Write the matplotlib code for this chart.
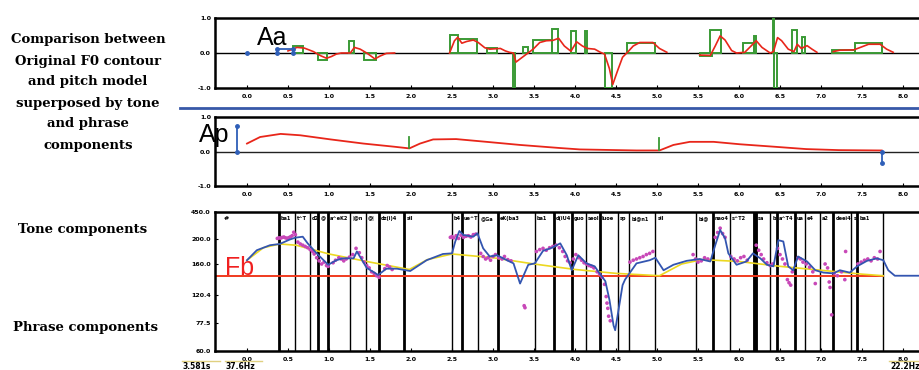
import matplotlib
matplotlib.use("Agg")
import matplotlib.pyplot as plt
from matplotlib.patches import Rectangle
from matplotlib.lines import Line2D
import numpy as np

# ---------------- data ----------------
# time axis labels (s)
x_ticks = [0.0, 0.5, 1.0, 1.5, 2.0, 2.5, 3.0, 3.5, 4.0, 4.5, 5.0, 5.5, 6.0, 6.5, 7.0, 7.5, 8.0]
x_labels = ["%.1f" % v for v in x_ticks]

# tone commands (Aa): onset, offset, amplitude
aa_on = [0.565, 0.862, 1.248, 1.431, 2.476, 2.569, 2.923, 3.248, 3.370, 3.484, 3.715, 3.950, 4.120,
         4.360, 4.640, 5.520, 5.650, 6.050, 6.180, 6.410, 6.430, 6.650, 6.770, 7.130, 7.410]
aa_off = [0.687, 0.972, 1.305, 1.573, 2.569, 2.800, 3.045, 3.268, 3.430, 3.715, 3.797, 4.010, 4.150,
          4.450, 4.970, 5.670, 5.780, 6.180, 6.210, 6.430, 6.460, 6.710, 6.800, 7.410, 7.740]
aa_amp = [0.21, -0.20, 0.35, -0.20, 0.51, 0.39, 0.13, -1.00, 0.16, 0.37, 0.69, 0.62, 0.63,
          -1.00, 0.30, -0.09, 0.67, 0.30, 0.50, 1.00, -1.00, 0.67, 0.47, 0.09, 0.28]

# tone component curve (red), nan = gap
tone_t = [0.50, 0.61, 0.70, 0.81, 0.90, 0.97, 1.03, 1.09, 1.15, 1.26, 1.31, 1.38, 1.46, 1.52, 1.56,
          1.62, 1.70, 1.80, np.nan,
          2.47, 2.53, 2.57, 2.62, 2.68, 2.76, 2.82, 2.90, 2.96, 3.02, 3.09, 3.15, 3.20, 3.25, 3.28,
          3.33, 3.41, 3.49, 3.57, 3.65, 3.73, 3.80, 3.87, 3.95, 4.02, 4.09, 4.15, 4.24, 4.31, 4.36,
          4.42, 4.46, 4.52, 4.58, 4.64, 4.71, 4.79, 4.95, 5.03, 5.12, np.nan,
          5.52, 5.65, 5.71, 5.77, 5.83, 5.91, 5.97, 6.07, 6.13, 6.21, 6.28, 6.38, 6.42, 6.47, 6.52,
          6.60, 6.67, 6.71, 6.76, 6.83, 6.89, 6.95, np.nan,
          7.15, 7.23, 7.40, 7.48, 7.58, 7.72, 7.80, 7.88]
tone_v = [0.06, 0.16, 0.14, 0.04, -0.08, -0.15, -0.10, -0.03, 0.0, 0.0, 0.16, 0.11, 0.0, -0.10, -0.17,
          -0.09, -0.01, 0.0, np.nan,
          0.0, 0.35, 0.45, 0.28, 0.33, 0.37, 0.30, 0.15, 0.11, 0.12, 0.13, 0.06, 0.02, 0.0, -0.26,
          -0.17, -0.03, 0.11, 0.30, 0.35, 0.36, 0.42, 0.20, 0.05, 0.32, 0.20, 0.13, 0.11, 0.02, -0.03,
          -0.45, -0.90, -0.50, -0.12, 0.02, 0.20, 0.30, 0.30, 0.13, 0.02, np.nan,
          -0.06, -0.07, 0.20, 0.49, 0.37, 0.07, 0.0, 0.02, 0.16, 0.35, 0.16, 0.0, 0.04, 0.44, 0.35,
          0.11, 0.04, 0.25, 0.13, 0.21, 0.11, 0.02, np.nan,
          0.04, 0.08, 0.09, 0.16, 0.25, 0.25, 0.11, 0.02]

# Aa marker (blue)
aa_blue_t = [0.36, 0.36, 0.565, 0.565]
aa_blue_v = [0.0, 0.11, 0.11, 0.0]

# phrase commands (Ap)
ap_t = [-0.12, 1.98, 5.03, 7.74]
ap_lo = [0.0, 0.10, 0.03, 0.0]
ap_hi = [0.74, 0.43, 0.38, -0.33]
ap_col = ["#2f5fb8", "#3a9a35", "#3a9a35", "#2f5fb8"]

# phrase component curve (red)
phr_t = [0.00, 0.16, 0.41, 0.65, 1.02, 1.42, 1.79, 1.98, 2.11, 2.27, 2.55, 2.92, 3.33, 3.82, 4.06,
         4.75, 5.03, 5.20, 5.40, 5.69, 6.01, 6.42, 6.82, 7.22, 7.74]
phr_v = [0.23, 0.42, 0.51, 0.47, 0.35, 0.23, 0.14, 0.09, 0.23, 0.35, 0.36, 0.28, 0.19, 0.10, 0.06,
         0.03, 0.03, 0.19, 0.28, 0.28, 0.21, 0.14, 0.07, 0.04, 0.03]

# F0 panel: tick labels (Hz)
f0_ticks = [60.0, 77.5, 120.4, 160.0, 200.0, 450.0]
f0_tick_labels = ["60.0", "77.5", "120.4", "160.0", "200.0", "450.0"]
fb_hz = 144.7

# F0 model (blue)
model_t = [0.00, 0.12, 0.28, 0.40, 0.52, 0.59, 0.68, 0.74, 0.85, 0.99, 1.09, 1.17, 1.30, 1.34, 1.46,
           1.60, 1.70, 1.83, 1.99, 2.19, 2.39, 2.50, 2.54, 2.59, 2.64, 2.76, 2.81, 2.88, 2.96, 3.05,
           3.17, 3.25, 3.33, 3.43, 3.51, 3.61, 3.72, 3.82, 3.90, 3.96, 4.04, 4.14, 4.24, 4.30, 4.37,
           4.42, 4.47, 4.49, 4.53, 4.58, 4.61, 4.65, 4.75, 4.91, 4.98, 5.08, 5.20, 5.36, 5.52, 5.65,
           5.71, 5.77, 5.83, 5.87, 5.97, 6.09, 6.17, 6.26, 6.34, 6.42, 6.48, 6.54, 6.60, 6.66, 6.72,
           6.83, 6.93, 7.03, 7.15, 7.23, 7.35, 7.44, 7.56, 7.68, 7.76, 7.82, 7.90, 8.30]
model_hz = [166, 182, 190, 192, 199, 212, 221, 193, 177, 159, 166, 169, 169, 180, 155,
            146, 154, 154, 151, 166, 176, 177, 196, 274, 237, 221, 253, 185, 172, 174,
            166, 161, 135, 159, 161, 181, 186, 193, 174, 152, 174, 161, 157, 148, 138,
            113, 76, 73, 97, 133, 140, 146, 161, 166, 170, 152, 159, 165, 168, 164,
            190, 283, 206, 177, 159, 164, 177, 169, 159, 157, 198, 196, 157, 152, 172,
            164, 152, 149, 148, 152, 149, 157, 165, 169, 166, 152, 145, 145]

# phrase component + Fb (yellow)
base_t = [0.0, 0.2, 0.4, 0.6, 1.0, 1.5, 1.98, 2.2, 2.5, 3.0, 3.5, 4.0, 4.5, 5.03, 5.3, 5.55,
          6.0, 6.5, 7.0, 7.5, 7.76]
base_hz = [166, 186, 192, 190, 176, 163, 153, 167, 176, 170, 160, 153, 148, 145, 160, 167,
           164, 157, 152, 147, 145]

# original F0 samples (magenta)
orig_t = [0.37, 0.39, 0.41, 0.43, 0.45, 0.47, 0.49, 0.51, 0.53, 0.55, 0.57, 0.59,
          0.62, 0.65, 0.68, 0.71, 0.74, 0.77, 0.80, 0.82,
          0.85, 0.88, 0.91, 0.94, 0.97, 0.99,
          1.05, 1.08, 1.12, 1.15, 1.18, 1.21, 1.25, 1.29, 1.33,
          1.37, 1.40, 1.43, 1.46, 1.49, 1.52, 1.55, 1.58, 1.61,
          1.68, 1.71, 1.74, 1.77,
          2.48, 2.50, 2.52, 2.55, 2.58, 2.61, 2.64, 2.67, 2.70, 2.73, 2.76, 2.79,
          2.85, 2.88, 2.91, 2.94, 2.97, 3.00, 3.03, 3.07, 3.11, 3.14, 3.18, 3.22,
          3.38, 3.39,
          3.53, 3.57, 3.61, 3.65, 3.69, 3.73, 3.77, 3.81,
          3.85, 3.88, 3.91, 3.94, 3.98, 4.01,
          4.05, 4.08, 4.11, 4.14, 4.17, 4.20, 4.23,
          4.27, 4.30, 4.33, 4.36, 4.38, 4.39, 4.40, 4.41, 4.43,
          4.67, 4.71, 4.75, 4.79, 4.83, 4.87, 4.91, 4.95,
          5.44, 5.47, 5.50, 5.54, 5.58, 5.62,
          5.71, 5.74, 5.77, 5.80, 5.83,
          5.90, 5.94, 5.98, 6.02, 6.06, 6.10,
          6.21, 6.24, 6.27, 6.30, 6.34, 6.38, 6.41,
          6.47, 6.50, 6.53, 6.56, 6.59, 6.61, 6.63, 6.65,
          6.72, 6.75, 6.78, 6.82, 6.86, 6.90, 6.93,
          7.05, 7.08, 7.10, 7.11, 7.13, 7.16, 7.20, 7.25, 7.29, 7.30,
          7.45, 7.49, 7.53, 7.57, 7.61, 7.65, 7.69, 7.72]
orig_hz = [205, 210, 208, 214, 218, 210, 206, 212, 220, 230, 262, 240,
           195, 192, 190, 188, 186, 183, 180, 176,
           170, 165, 160, 163, 158, 157,
           162, 166, 170, 168, 165, 168, 171, 175, 185,
           178, 170, 163, 158, 155, 150, 148, 145, 143,
           154, 158, 156, 153,
           215, 222, 210, 230, 205, 235, 215, 225, 230, 218, 240, 245,
           177, 172, 168, 170, 166, 172, 175, 170, 168, 172, 167, 165,
           104, 101,
           180, 183, 185, 182, 186, 188, 190, 186,
           180, 172, 165, 162, 168, 175,
           170, 166, 162, 160, 158, 157, 155,
           150, 147, 143, 134, 118, 108, 100, 88, 81,
           163, 166, 168, 170, 172, 175, 177, 180,
           175, 168, 163, 165, 170, 168,
           215, 260, 300, 250, 215,
           172, 168, 165, 170, 172, 166,
           190, 182, 175, 168, 162, 158, 160,
           185, 175, 168, 160, 140, 136, 133, 150,
           170, 168, 163, 160, 156, 150, 135,
           160, 155, 137, 130, 90, 148, 145, 150, 140, 180,
           160, 163, 166, 168, 165, 170, 168, 180]

# segmentation boundaries and labels
seg_bounds = [0.39, 0.585, 0.77, 0.87, 0.99, 1.26, 1.45, 1.61, 1.92, 2.50, 2.62, 2.82, 3.06, 3.51,
              3.74, 3.96, 4.13, 4.30, 4.52, 4.66, 4.98, 5.48, 5.68, 5.89, 6.20, 6.38, 6.46, 6.68,
              6.80, 6.99, 7.15, 7.37, 7.44, 7.76]
seg_width = [2, 1, 1, 2, 2, 1, 1, 2, 2, 1, 2, 1, 2, 1,
             2, 2, 1, 2, 1, 1, 1, 1, 2, 1, 3.5, 1, 2, 2,
             1, 1, 2, 1, 2, 1]
seg_labels = ["ba1", "t^T", "d2'", "@", "a^eK2", "|@n", "@|", "dz(i)4", "sil", "b4", "ue^T",
              "@Ga", "eK(ba3", "ba1", "d(iU4", "guo", "seol", "luoe", "sp", "bl@n1", "sil",
              "bi@", "nao4", "s^T2", "sa", "b", "a^T4", "ua", "e4", "a2", "deei4", "s", "ba1"]

# ---------------- figure ----------------
W_PX, H_PX = 920, 370
fig = plt.figure(figsize=(W_PX / 100, H_PX / 100), dpi=100)
X0, X1 = -0.39, 8.207
LEFT = 215 / W_PX


def fy(y):
    return 1 - y / H_PX


def frame(ax, ylabel_pad=3):
    for s in ["left", "top", "bottom"]:
        ax.spines[s].set_linewidth(1.8)
    ax.spines["right"].set_visible(False)
    ax.set_xlim(X0, X1)
    ax.set_xticks(x_ticks)
    ax.set_xticklabels(x_labels)
    ax.tick_params(axis="x", direction="in", length=2, width=0.8, labelsize=4.5, pad=4)
    ax.tick_params(axis="y", direction="in", length=2, width=0.8, labelsize=4.5, pad=ylabel_pad)
    for lab in ax.get_xticklabels() + ax.get_yticklabels():
        lab.set_fontweight("bold")


# panel 1: tone commands
ax1 = fig.add_axes([LEFT, fy(88), 1 - LEFT, (88 - 18) / H_PX])
ax1.set_ylim(-1, 1)
ax1.set_yticks([-1, 0, 1])
ax1.set_yticklabels(["-1.0", "0.0", "1.0"])
frame(ax1)
ax1.axhline(0, color="black", lw=1)
for on, off, a in zip(aa_on, aa_off, aa_amp):
    ax1.add_patch(Rectangle((on, 0), off - on, a, fill=False, ec="#3a9a35", lw=1.4, zorder=3))
ax1.plot(tone_t, tone_v, color="#e8261a", lw=1.2, zorder=4)
ax1.plot([0.0], [0.0], "o", color="#2f5fb8", ms=2.5)
ax1.plot(aa_blue_t, aa_blue_v, "-o", color="#2f5fb8", ms=2.5, lw=1.3, zorder=5)

# panel 2: phrase commands
ax2 = fig.add_axes([LEFT, fy(186), 1 - LEFT, (186 - 117) / H_PX])
ax2.set_ylim(-1, 1)
ax2.set_yticks([-1, 0, 1])
ax2.set_yticklabels(["-1.0", "0.0", "1.0"])
frame(ax2)
ax2.axhline(0, color="#222222", lw=1)
ax2.plot(phr_t, phr_v, color="#e8261a", lw=1.3, zorder=3)
for t, lo, hi, c in zip(ap_t, ap_lo, ap_hi, ap_col):
    if c == "#2f5fb8":
        ax2.plot([t, t], [lo, hi], "-o", color=c, lw=1.3, ms=2.5, zorder=4)
    else:
        ax2.plot([t, t], [lo, hi], "-", color=c, lw=1.3, zorder=4)

# panel 3: F0 contour
scale_hz = [1.0, 60.0, 77.5, 120.4, 160.0, 200.0, 450.0, 5000.0]
scale_pos = [-0.3, 0.0, 0.201, 0.403, 0.626, 0.806, 1.0, 2.0]


def fwd(v):
    return np.interp(v, scale_hz, scale_pos)


def inv(p):
    return np.interp(p, scale_pos, scale_hz)


ax3 = fig.add_axes([LEFT, fy(351), 1 - LEFT, (351 - 212) / H_PX])
ax3.set_yscale("function", functions=(fwd, inv))
ax3.set_ylim(60, 450)
ax3.set_yticks(f0_ticks)
ax3.set_yticklabels(f0_tick_labels)
frame(ax3)
ax3.plot([X0, 7.76], [fb_hz, fb_hz], color="#f03a1e", lw=1.4, zorder=2)
ax3.plot(base_t, base_hz, color="#ecd820", lw=1.2, zorder=2)
for b, w in zip(seg_bounds, seg_width):
    ax3.axvline(b, color="black", lw=w, zorder=1)
ax3.scatter(orig_t, orig_hz, s=7, color="#c848b8", edgecolors="none", zorder=3)
ax3.plot(model_t, model_hz, color="#3355b0", lw=1.3, zorder=4)
ax3.text(-0.256, 0.95, "#", transform=ax3.get_xaxis_transform(), fontsize=4.5,
         fontweight="bold", ha="center", va="center")
for b, lab in zip(seg_bounds, seg_labels):
    ax3.text(b + 0.025, 0.95, lab, transform=ax3.get_xaxis_transform(), fontsize=3.6,
             fontweight="bold", ha="left", va="center", clip_on=True)

# big labels
fig.text(257 / W_PX, fy(45), "Aa", fontsize=18, family="Liberation Sans", va="baseline")
fig.text(199 / W_PX, fy(142), "Ap", fontsize=18, family="Liberation Sans", va="baseline")
fig.text(225 / W_PX, fy(275), "Fb", fontsize=18, family="Liberation Sans", va="baseline",
         color="#f02020")

# separator
fig.add_artist(Line2D([180 / W_PX, 1], [fy(108), fy(108)], transform=fig.transFigure,
                      color="#3858a8", lw=2))

# left captions
caption = ["Comparison between", "Original F0 contour", "and pitch model",
           "superposed by tone", "and phrase", "components"]
for i, line in enumerate(caption):
    fig.text(88 / W_PX, fy(40 + i * 21), line, ha="center", va="center",
             family="DejaVu Serif", fontweight="bold", fontsize=9.5)
fig.text(83 / W_PX, fy(230), "Tone components", ha="center", va="center",
         family="DejaVu Serif", fontweight="bold", fontsize=9.5)
fig.text(86 / W_PX, fy(328), "Phrase components", ha="center", va="center",
         family="DejaVu Serif", fontweight="bold", fontsize=9.5)

# status boxes
for x0, x1, txt in [(182, 220, "3.581s"), (225, 262, "37.6Hz"), (889, 920, "22.2Hz")]:
    fig.add_artist(Line2D([x0 / W_PX, x1 / W_PX], [fy(361), fy(361)], transform=fig.transFigure,
                          color="#e0d080", lw=1))
    fig.text((x0 + 1) / W_PX, fy(362), txt, fontsize=5.5, fontweight="bold", va="top")

fig.savefig("out.png", dpi=100)
